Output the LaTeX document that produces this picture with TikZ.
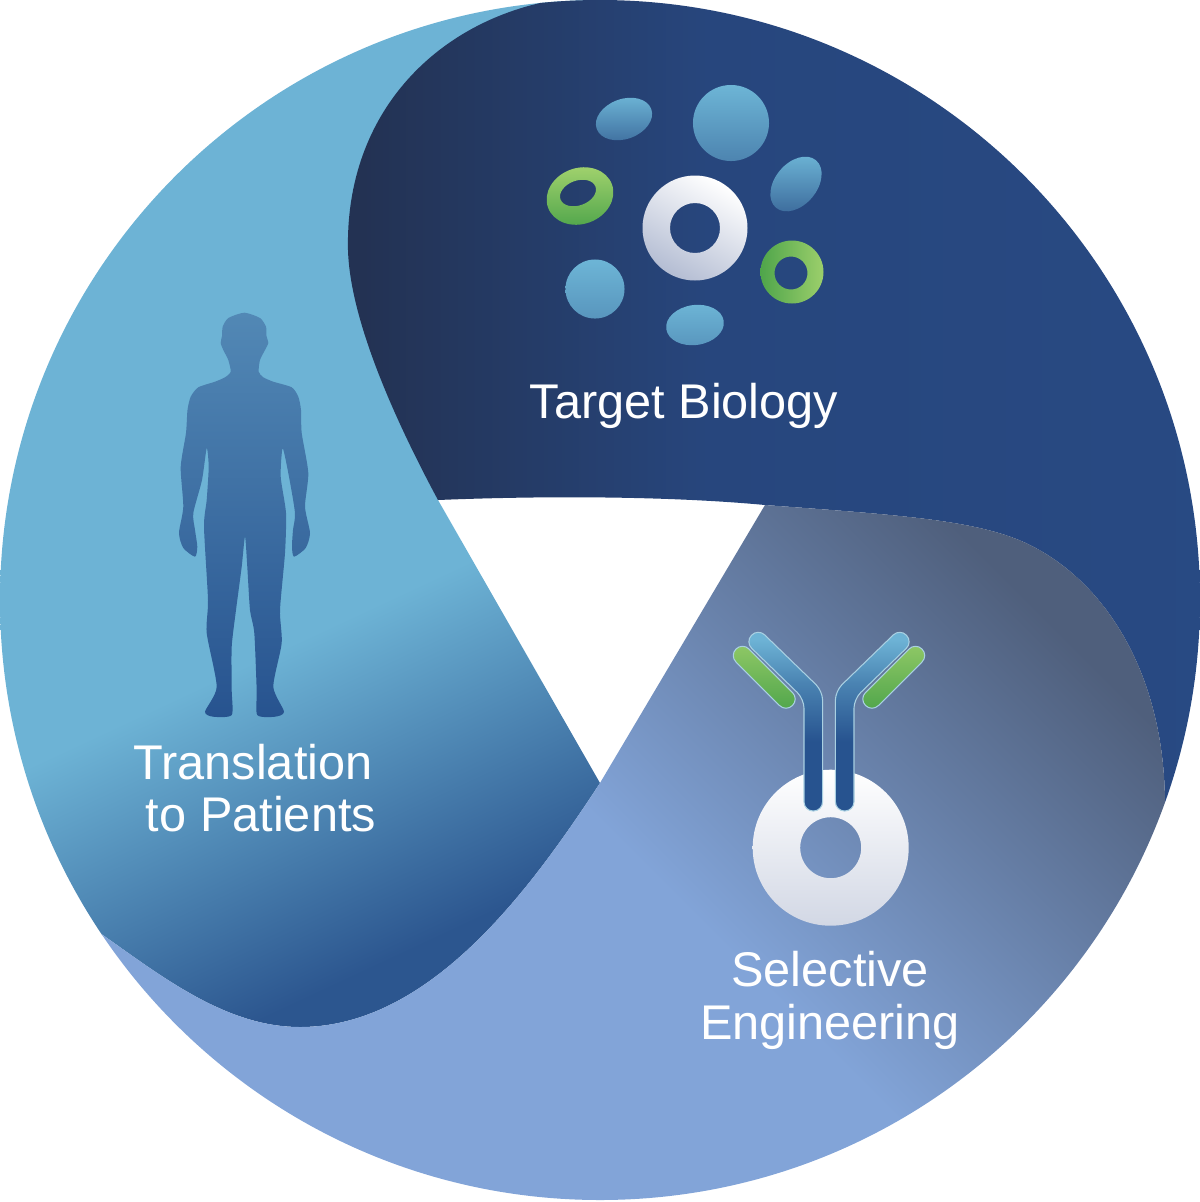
\documentclass[tikz,border=0pt]{standalone}
\usepackage{fontspec}
\setmainfont{Liberation Sans}
\usetikzlibrary{shapes}
\definecolor{DarkLeft}{HTML}{233253}
\definecolor{DarkMid}{HTML}{27467D}
\definecolor{DarkRight}{HTML}{294D88}
\definecolor{SkyBlue}{HTML}{6DB3D5}
\definecolor{DeepBlue}{HTML}{2C568F}
\definecolor{Periwinkle}{HTML}{82A4D8}
\definecolor{SlateBlue}{HTML}{4F5F7C}
\definecolor{BlobTop}{HTML}{6DB5D6}
\definecolor{BlobBottom}{HTML}{3F6F9F}
\definecolor{GreenTop}{HTML}{9CCF6B}
\definecolor{GreenBottom}{HTML}{4FA54B}
\definecolor{BodyTop}{HTML}{5288B5}
\definecolor{BodyBottom}{HTML}{27538F}
\definecolor{ChainEdge}{HTML}{A9D0E2}
\definecolor{RingShadow}{HTML}{B4BDD3}
\pgfdeclareverticalshading{TranslationShade}{100bp}{color(0bp)=(DeepBlue); color(25bp)=(DeepBlue); color(43bp)=(SkyBlue); color(100bp)=(SkyBlue)}
\pgfdeclareverticalshading{SelectiveShade}{100bp}{color(0bp)=(Periwinkle); color(50bp)=(Periwinkle); color(75bp)=(SlateBlue); color(100bp)=(SlateBlue)}
\pgfdeclareverticalshading{ChainShade}{100bp}{color(0bp)=(BodyBottom); color(44bp)=(BodyBottom); color(60bp)=(SkyBlue!50!BodyBottom); color(72bp)=(SkyBlue); color(100bp)=(SkyBlue)}
\pgfdeclarehorizontalshading{TargetShade}{100bp}{color(0bp)=(DarkLeft); color(26bp)=(DarkLeft); color(46bp)=(DarkMid); color(100bp)=(DarkRight)}
\begin{document}
\begin{tikzpicture}[y=-0.01cm,x=0.01cm]
	\tikzstyle{blob} = [ellipse, inner sep=0pt, shade, top color=BlobTop, bottom color=BlobBottom]
	\tikzstyle{label} = [text=white, font=\fontsize{13.85pt}{15pt}\selectfont, anchor=base, inner sep=0pt]
	\tikzstyle{ring} = [even odd rule, shade, top color=white, bottom color=RingShadow, shading angle=-30]
	\tikzstyle{greenring} = [even odd rule, shade, top color=GreenTop, bottom color=GreenBottom]
	\tikzstyle{chain} = [rounded corners=2.6pt, draw=ChainEdge, line width=0.3pt, shade, shading=ChainShade]
	\tikzstyle{lightchain} = [rounded corners=2.6pt, draw=ChainEdge, line width=0.3pt, shade, top color=GreenTop!85!GreenBottom, middle color=GreenBottom!65!GreenTop, bottom color=GreenBottom]
	\useasboundingbox (0,0) rectangle (1200,1202);

	\begin{scope}
		\clip (600,600) circle [radius=600];
		\path[shade, shading=TranslationShade, shading angle=25] (-20,-20) -- (600,-20) -- (500,200) -- (438,500) -- (600,783) .. controls (530,890) and (430,1027) .. (300,1027) .. controls (225,1027) and (160,975) .. (100,933) -- (-20,933) -- cycle;
		\path[shade, shading=TargetShade] (555,-10) -- (555,0) .. controls (440,20) and (345,110) .. (348,250) .. controls (350,320) and (395,420) .. (438,500) .. controls (560,495) and (680,497) .. (765,505) .. controls (900,515) and (980,520) .. (1030,545) .. controls (1110,585) and (1165,680) .. (1165,805) -- (1210,805) -- (1210,-10) -- cycle;
		\path[shade, shading=SelectiveShade, shading angle=-45] (765,505) -- (600,783) .. controls (530,890) and (430,1027) .. (300,1027) .. controls (225,1027) and (160,975) .. (100,933) -- (60,1210) -- (1210,1210) -- (1210,805) -- (1165,805) .. controls (1165,680) and (1110,585) .. (1030,545) .. controls (980,520) and (900,515) .. (765,505) -- cycle;
	\end{scope}

	\node[blob, minimum width=0.58cm, minimum height=0.4cm, rotate=20] (BlobOne) at (624,119) {};
	\node[blob, minimum width=0.76cm, minimum height=0.76cm, bottom color=BlobBottom!70!BlobTop] (BlobTwo) at (731,123) {};
	\node[blob, minimum width=0.62cm, minimum height=0.42cm, rotate=50] (BlobThree) at (796,184) {};
	\node[blob, minimum width=0.59cm, minimum height=0.59cm, bottom color=BlobBottom!45!BlobTop] (BlobFour) at (595,289) {};
	\node[blob, minimum width=0.58cm, minimum height=0.4cm, rotate=8, bottom color=BlobBottom!45!BlobTop] (BlobFive) at (695,325) {};
	\path[ring] (695,228) circle [radius=52.5] (695,228) circle [radius=25];
	\path[greenring] (580,196) circle [x radius=34, y radius=28, rotate=20] (578,193) circle [x radius=18.6, y radius=12.4, rotate=20];
	\path[greenring, left color=GreenBottom, middle color=GreenTop, right color=GreenTop] (792,272) circle [radius=31.5] (791,273) circle [radius=16.5];

	\path[shade, top color=BodyTop, middle color=BodyBottom, bottom color=BodyBottom] plot[smooth cycle, tension=0.4] coordinates {(244.3,312.7) (260,318) (266,326.7) (266.5,336) (268.3,343) (265,350) (260,360) (258.7,371.7) (263.3,377.3) (273.3,381.7) (291.7,387.3) (298.3,396.7) (301,410) (301.7,433) (308.3,473) (305,506.7) (310,533) (305.7,548) (294,556.7) (292,546.7) (293,530) (295,513) (289,476.7) (282.7,448.3) (280.7,476.7) (286,513) (285,553) (280,610) (281.7,643) (273.3,686.7) (284,711.7) (275,716.7) (257.3,715) (256.7,690) (254.3,633) (250,610) (247.3,567) (245,536.7) (241.7,566.7) (236,610) (231.7,646.7) (231.7,690) (231.7,715) (213.3,716.7) (205,711.7) (216.7,686.7) (206.7,633) (208,600) (204,526.7) (206.7,500) (208.7,467) (206.7,448.3) (202,480) (193.3,513) (195,530) (197.3,546.7) (195,556.7) (183.3,548) (179,533) (183.3,506.7) (180.7,467) (186,433) (187.5,410) (190.7,396.7) (198.3,387.3) (215,381.7) (225,377.3) (230.7,371.7) (228.3,360) (223.3,350) (220.7,343) (222,336) (222.7,326.7) (228.3,318)};

	\path[ring, bottom color=RingShadow!60!white] (830.7,847.7) circle [radius=78] (830.7,847.7) circle [radius=30.5];
	\path[chain] (758.1,628.5) -- (822.6,691) -- (822.6,811) -- (804,811) -- (804,699) -- (745.1,641.9) -- cycle;
	\path[chain] (899.9,628.5) -- (835.4,691) -- (835.4,811) -- (854,811) -- (854,699) -- (912.9,641.9) -- cycle;
	\path[lightchain] (742.5,642.5) -- (799,699) -- (786,712) -- (729.5,655.5) -- cycle;
	\path[lightchain] (915.5,642.5) -- (859,699) -- (872,712) -- (928.5,655.5) -- cycle;

	\node[label] (TargetLabel) at (684,418) {Target Biology};
	\node[label] (TranslationLabel) at (253,779) {Translation};
	\node[label] (PatientsLabel) at (261,831) {to Patients};
	\node[label] (SelectiveLabel) at (830,986) {Selective};
	\node[label] (EngineeringLabel) at (830,1039) {Engineering};
\end{tikzpicture}
\end{document}
